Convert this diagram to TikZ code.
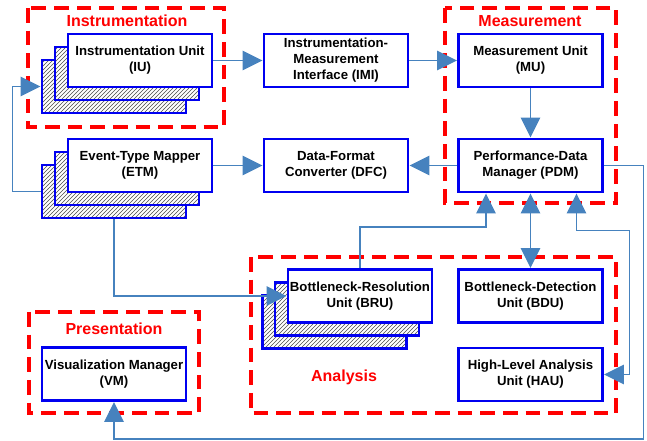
\documentclass[tikz,border=0pt]{standalone}
\usepackage{fontspec}
\setmainfont{Liberation Sans}
\usetikzlibrary{arrows.meta,patterns,calc}
\definecolor{conn}{RGB}{70,130,190}
\definecolor{boxblue}{RGB}{0,0,240}
\definecolor{grpred}{RGB}{255,0,0}
\begin{document}
\begin{tikzpicture}[x=0.75pt,y=-0.75pt,
  unit/.style={draw=boxblue, line width=2.2pt, fill=white, minimum width=108pt, minimum height=39.75pt, inner sep=0pt, align=center, font=\fontsize{9.9}{12}\selectfont\bfseries},
  layer/.style={draw=boxblue, line width=2.2pt, preaction={fill=white}, pattern=north east lines, pattern color=black!70, minimum width=108pt, minimum height=39.75pt, inner sep=0pt},
  group/.style={draw=grpred, line width=2.3pt, dash pattern=on 11pt off 6pt},
  grplabel/.style={text=grpred, font=\fontsize{12}{14}\selectfont\bfseries},
  tip/.style={},
  arr/.style={draw=conn, line width=1.2pt, -{Triangle[length=15pt,width=14.5pt]}},
  darr/.style={draw=conn, line width=1.2pt, {Triangle[length=15pt,width=14.5pt]}-{Triangle[length=15pt,width=14.5pt]}}
]
\useasboundingbox (0,0) rectangle (647,441);
% groups
\draw[group] (28,8) rectangle (224,127);
\draw[group] (445,8) rectangle (616,203);
\draw[group] (251,257) rectangle (616,413);
\draw[group] (29,312) rectangle (199,413);
\node[grplabel] (lI) at (127,21) {Instrumentation};
\node[grplabel] (lM) at (530,21) {Measurement};
\node[grplabel] (lA) at (344,377) {Analysis};
\node[grplabel] (lP) at (114,329) {Presentation};
% stacked layers
\node[layer] (iu3) at (114,86.5) {};
\node[layer] (iu2) at (127,73.5) {};
\node[layer] (etm3) at (114,191.5) {};
\node[layer] (etm2) at (127,178.5) {};
\node[layer] (bru3) at (334.5,322) {};
\node[layer] (bru2) at (347,309) {};
% units
\node[unit] (iu) at (140,60.5) {Instrumentation Unit\\(IU)};
\node[unit] (imi) at (336,60.5) {Instrumentation-\\Measurement\\Interface (IMI)};
\node[unit] (mu) at (530.5,60.5) {Measurement Unit\\(MU)};
\node[unit] (etm) at (140,165.5) {Event-Type Mapper\\(ETM)};
\node[unit] (dfc) at (336,165.5) {Data-Format\\Converter (DFC)};
\node[unit] (pdm) at (530.5,165.5) {Performance-Data\\Manager (PDM)};
\node[unit] (bru) at (360,296) {Bottleneck-Resolution\\Unit (BRU)};
\node[unit] (bdu) at (530.5,296) {Bottleneck-Detection\\Unit (BDU)};
\node[unit] (hau) at (530.5,374.5) {High-Level Analysis\\Unit (HAU)};
\node[unit] (vm) at (114,374) {Visualization Manager\\(VM)};
% connectors
\draw[arr] (iu) -- (imi);
\draw[arr] (imi) -- (mu);
\draw[arr] (mu) -- (pdm);
\draw[arr] (etm) -- (dfc);
\draw[arr] (pdm) -- (dfc);
\draw[arr] (etm3.west) -- ++(-28,0) |- (iu3.west);
\draw[arr] (etm3.south) |- (bru.west);
\draw[arr] (bru.north) -- ++(0,-41) -| ($(pdm.south)+(-44.5,0)$);
\draw[darr] (pdm.south) -- (bdu.north);
\draw[darr] ($(pdm.south)+(46,0)$) -- ++(0,37) -- ++(53,0) |- (hau.east);
\draw[arr] (pdm.east) -- ++(39.5,0) -- ++(0,273.5) -| (vm.south);
\end{tikzpicture}
\end{document}
